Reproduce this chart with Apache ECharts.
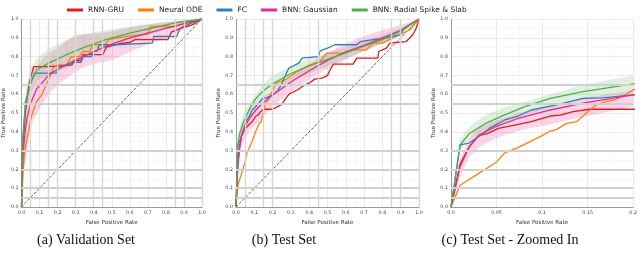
<!DOCTYPE html>
<html><head><meta charset="utf-8">
<script src="https://cdn.jsdelivr.net/npm/echarts/dist/echarts.min.js"></script>
<style>html,body{margin:0;padding:0;background:#fff}#c{width:640px;height:254px}</style>
</head><body><div id="c"></div><script>
// ---------- names / labels ----------
const seriesNames = ['RNN-GRU', 'Neural ODE', 'FC', 'BNN: Gaussian', 'BNN: Radial Spike & Slab'];
const captions = ['(a) Validation Set', '(b) Test Set', '(c) Test Set - Zoomed In'];
const xAxisTitle = 'False Positive Rate';
const yAxisTitle = 'True Positive Rate';
const zoomXTickLabels = ['0.0', '0.05', '0.1', '0.15', '0.2'];
const diagonal = [[0, 0], [1, 1]];

// ---------- validation set ROC ----------
const valRed = [[0,0],[0.005,0.3],[0.022,0.507],[0.04,0.65],[0.067,0.747],[0.15,0.747],[0.16,0.756],[0.28,0.756],[0.29,0.78],[0.33,0.78],[0.34,0.81],[0.45,0.81],[0.47,0.85],[0.55,0.87],[0.6,0.875],[0.63,0.89],[0.81,0.89],[0.83,0.93],[0.88,0.95],[0.95,0.97],[1,1]];
const valOrange = [[0,0],[0.009,0.196],[0.018,0.3],[0.036,0.39],[0.054,0.48],[0.082,0.56],[0.112,0.596],[0.14,0.658],[0.158,0.694],[0.176,0.738],[0.194,0.756],[0.25,0.756],[0.275,0.8],[0.32,0.8],[0.339,0.827],[0.38,0.827],[0.393,0.863],[0.46,0.863],[0.484,0.89],[0.53,0.9],[0.6,0.91],[0.7,0.92],[0.716,0.96],[0.851,0.96],[0.9,0.975],[1,1]];
const valBlue = [[0,0],[0.005,0.3],[0.022,0.56],[0.058,0.676],[0.076,0.712],[0.195,0.712],[0.2,0.745],[0.27,0.756],[0.28,0.77],[0.33,0.77],[0.34,0.8],[0.39,0.8],[0.393,0.827],[0.42,0.83],[0.43,0.863],[0.515,0.863],[0.52,0.872],[0.725,0.872],[0.733,0.907],[0.86,0.907],[0.878,0.952],[0.92,0.97],[1,1]];
const valPink = [[0,0],[0.005,0.2],[0.01,0.3],[0.02,0.4],[0.03,0.47],[0.05,0.55],[0.085,0.63],[0.16,0.71],[0.25,0.757],[0.34,0.8],[0.48,0.86],[0.6,0.9],[0.7,0.925],[0.8,0.95],[0.9,0.975],[1,1]];
const valGreen = [[0,0],[0.005,0.35],[0.022,0.543],[0.049,0.667],[0.085,0.73],[0.15,0.765],[0.25,0.81],[0.35,0.85],[0.466,0.89],[0.6,0.925],[0.716,0.95],[0.85,0.98],[1,1]];
// bands: [fpr, lower, upper]
const valPinkBand = [[0,0,0],[0.005,0.1,0.3],[0.01,0.18,0.42],[0.027,0.27,0.6],[0.045,0.38,0.69],[0.063,0.46,0.73],[0.1,0.52,0.765],[0.118,0.55,0.79],[0.17,0.62,0.83],[0.21,0.66,0.854],[0.26,0.69,0.89],[0.3,0.72,0.916],[0.35,0.747,0.92],[0.44,0.77,0.925],[0.5,0.78,0.935],[0.625,0.836,0.96],[0.77,0.89,0.98],[0.9,0.94,0.99],[1,1,1]];
const valGreenBand = [[0,0,0],[0.005,0.3,0.4],[0.022,0.5,0.6],[0.049,0.6,0.74],[0.085,0.67,0.79],[0.15,0.7,0.84],[0.25,0.74,0.89],[0.35,0.79,0.92],[0.466,0.84,0.94],[0.6,0.88,0.96],[0.716,0.92,0.975],[0.85,0.96,0.99],[1,1,1]];

// ---------- test set ROC ----------
const testRed = [[0,0],[0.01,0.23],[0.02,0.32],[0.03,0.38],[0.04,0.39],[0.052,0.418],[0.074,0.44],[0.088,0.454],[0.109,0.484],[0.12,0.489],[0.134,0.507],[0.152,0.52],[0.2,0.52],[0.22,0.53],[0.25,0.545],[0.27,0.575],[0.29,0.6],[0.34,0.625],[0.36,0.64],[0.4,0.66],[0.43,0.68],[0.47,0.685],[0.5,0.7],[0.515,0.73],[0.532,0.76],[0.64,0.76],[0.66,0.792],[0.775,0.792],[0.78,0.827],[0.822,0.845],[0.84,0.872],[0.93,0.88],[0.967,0.916],[0.985,0.952],[1,1]];
const testOrange = [[0,0],[0.01,0.116],[0.031,0.18],[0.049,0.235],[0.059,0.288],[0.074,0.317],[0.088,0.35],[0.099,0.377],[0.109,0.404],[0.116,0.413],[0.127,0.445],[0.138,0.454],[0.148,0.498],[0.159,0.543],[0.17,0.56],[0.18,0.57],[0.191,0.596],[0.2,0.623],[0.223,0.66],[0.269,0.676],[0.332,0.72],[0.405,0.756],[0.459,0.774],[0.495,0.819],[0.586,0.819],[0.64,0.836],[0.713,0.836],[0.75,0.872],[0.8,0.872],[0.876,0.907],[0.95,0.943],[1,1]];
const testBlue = [[0,0],[0.01,0.33],[0.02,0.34],[0.031,0.377],[0.042,0.418],[0.059,0.463],[0.074,0.484],[0.088,0.516],[0.116,0.543],[0.145,0.578],[0.166,0.58],[0.2,0.596],[0.23,0.62],[0.252,0.658],[0.27,0.7],[0.288,0.738],[0.343,0.765],[0.361,0.792],[0.45,0.8],[0.46,0.83],[0.5,0.845],[0.54,0.863],[0.66,0.863],[0.68,0.88],[0.75,0.89],[0.822,0.899],[0.894,0.916],[0.92,0.95],[1,1]];
const testPink = [[0,0],[0.01,0.214],[0.02,0.32],[0.031,0.383],[0.049,0.427],[0.074,0.472],[0.109,0.516],[0.145,0.552],[0.2,0.596],[0.3,0.665],[0.4,0.725],[0.5,0.78],[0.6,0.825],[0.7,0.86],[0.8,0.9],[0.9,0.94],[1,1]];
const testGreen = [[0,0],[0.01,0.33],[0.02,0.39],[0.038,0.445],[0.059,0.49],[0.081,0.534],[0.109,0.578],[0.145,0.614],[0.2,0.655],[0.3,0.71],[0.4,0.75],[0.5,0.785],[0.6,0.82],[0.7,0.855],[0.8,0.89],[0.9,0.935],[1,1]];
const testPinkBand = [[0,0,0],[0.01,0.16,0.26],[0.02,0.267,0.36],[0.031,0.32,0.42],[0.049,0.365,0.46],[0.074,0.405,0.5],[0.109,0.44,0.54],[0.145,0.48,0.58],[0.2,0.534,0.62],[0.3,0.615,0.69],[0.4,0.68,0.76],[0.5,0.735,0.82],[0.6,0.785,0.87],[0.7,0.83,0.91],[0.8,0.87,0.94],[0.9,0.92,0.97],[1,1,1]];
const testGreenBand = [[0,0,0],[0.01,0.3,0.365],[0.02,0.36,0.427],[0.038,0.41,0.49],[0.059,0.45,0.53],[0.081,0.49,0.56],[0.109,0.53,0.6],[0.145,0.57,0.65],[0.2,0.61,0.7],[0.3,0.67,0.75],[0.4,0.71,0.79],[0.5,0.75,0.82],[0.6,0.79,0.85],[0.7,0.83,0.885],[0.8,0.87,0.915],[0.9,0.91,0.955],[1,1,1]];

// emphasized (heavier) grid lines visible in the reference
const heavyY = [0.05, 0.1, 0.2, 0.3, 0.55, 0.65];
const heavyXVal = [0.05, 0.15, 0.2, 0.3, 0.4, 0.45, 0.85, 0.9, 1.0];
const heavyXTest = [0.05, 0.15, 0.2, 0.45, 0.85, 0.9, 1.0];

const colors = ['#e41a1c', '#ff7f0e', '#377eb8', '#e7298a', '#4daf4a'];
const bandColors = ['rgba(231,41,138,0.2)', 'rgba(77,175,74,0.18)'];

const chart = echarts.init(document.getElementById('c'), null, {renderer: 'canvas'});
const FONT = 'DejaVu Sans';

const grids = [
  {left: 18, top: 19, width: 184, height: 188},
  {left: 236, top: 19, width: 183, height: 188},
  {left: 451, top: 19, width: 187, height: 188}
];

function xAxisCfg(i, max, interval, fmt) {
  return {
    type: 'value', gridIndex: i, min: 0, max: max, interval: interval,
    name: xAxisTitle, nameLocation: 'middle', nameGap: 9,
    nameTextStyle: {fontFamily: FONT, fontSize: 5.6, color: '#333'},
    axisLine: {show: true, lineStyle: {color: '#999', width: 1}},
    axisTick: {show: false},
    axisLabel: {fontFamily: FONT, fontSize: 4.8, color: '#444', margin: 3, formatter: fmt},
    splitLine: {show: true, lineStyle: {color: '#e4e4e4', width: 0.8}},
    minorTick: {show: false, splitNumber: 2},
    minorSplitLine: {show: true, lineStyle: {color: '#f3f3f3', width: 0.6}}
  };
}
function yAxisCfg(i) {
  return {
    type: 'value', gridIndex: i, min: 0, max: 1, interval: 0.1,
    name: yAxisTitle, nameLocation: 'middle', nameGap: 13, nameRotate: 90,
    nameTextStyle: {fontFamily: FONT, fontSize: 5.6, color: '#333'},
    axisLine: {show: true, lineStyle: {color: '#999', width: 1}},
    axisTick: {show: false},
    axisLabel: {fontFamily: FONT, fontSize: 4.8, color: '#444', margin: 3, formatter: v => v.toFixed(1)},
    splitLine: {show: true, lineStyle: {color: '#e4e4e4', width: 0.8}},
    minorTick: {show: false, splitNumber: 2},
    minorSplitLine: {show: true, lineStyle: {color: '#f3f3f3', width: 0.6}}
  };
}

function band(i, pts, color, maxX) {
  const p = pts.filter(d => d[0] <= maxX + 1e-9);
  return {
    type: 'custom', name: 'band' + i + color, xAxisIndex: i, yAxisIndex: i, silent: true, z: 1,
    data: [[0, 0]],
    renderItem: function (params, api) {
      const up = p.map(d => api.coord([d[0], d[2]]));
      const lo = p.slice().reverse().map(d => api.coord([d[0], d[1]]));
      return {type: 'polygon', shape: {points: up.concat(lo)}, style: {fill: color}};
    }
  };
}
function line(i, name, data, color, w) {
  return {
    type: 'line', name: name, xAxisIndex: i, yAxisIndex: i, data: data,
    showSymbol: false, symbol: 'none', z: 3, silent: true, clip: true,
    lineStyle: {color: color, width: w || 1.3}, itemStyle: {color: color}
  };
}
function heavy(i, xs, ys) {
  return {
    type: 'line', name: 'heavy' + i, xAxisIndex: i, yAxisIndex: i, data: [],
    silent: true, z: 0, symbol: 'none',
    markLine: {
      silent: true, symbol: 'none', animation: false, label: {show: false},
      lineStyle: {color: '#d0d0d0', width: 1.8, type: 'solid'},
      data: xs.map(v => ({xAxis: v, lineStyle: {width: 1.4, color: '#d6d6d6'}})).concat(ys.map(v => ({yAxis: v})))
    }
  };
}
function diag(i) {
  return {
    type: 'line', name: 'chance' + i, xAxisIndex: i, yAxisIndex: i, data: diagonal,
    symbol: 'none', silent: true, z: 2,
    lineStyle: {color: '#222', width: 0.7, type: [3, 1.5]}
  };
}

const sets = [
  {d: [valRed, valOrange, valBlue, valPink, valGreen], b: [valPinkBand, valGreenBand], max: 1},
  {d: [testRed, testOrange, testBlue, testPink, testGreen], b: [testPinkBand, testGreenBand], max: 1},
  {d: [testRed, testOrange, testBlue, testPink, testGreen], b: [testPinkBand, testGreenBand], max: 0.2}
];

const series = [];
sets.forEach((s, i) => {
  series.push(heavy(i, i === 0 ? heavyXVal : (i === 1 ? heavyXTest : []), heavyY));
  series.push(band(i, s.b[0], bandColors[0], s.max));
  series.push(band(i, s.b[1], bandColors[1], s.max));
  if (i < 2) series.push(diag(i));
  s.d.forEach((d, k) => series.push(line(i, seriesNames[k], d, colors[k])));
});

const capX = [86, 284, 510];
const option = {
  animation: false,
  backgroundColor: '#fff',
  color: colors,
  legend: {
    data: seriesNames, left: 62, top: 1, itemWidth: 16, itemHeight: 3, itemGap: 14,
    icon: 'rect', selectedMode: false,
    textStyle: {fontFamily: FONT, fontSize: 7.5, color: '#222', padding: [0, 0, 0, 0]}
  },
  grid: grids,
  xAxis: [
    xAxisCfg(0, 1, 0.1, v => v.toFixed(1)),
    xAxisCfg(1, 1, 0.1, v => v.toFixed(1)),
    xAxisCfg(2, 0.2, 0.05, v => zoomXTickLabels[Math.round(v / 0.05)])
  ],
  yAxis: [yAxisCfg(0), yAxisCfg(1), yAxisCfg(2)],
  series: series,
  graphic: captions.map((t, i) => ({
    type: 'text', x: capX[i], y: 240, silent: true,
    style: {text: t, textAlign: 'center', textVerticalAlign: 'middle', fontFamily: 'Liberation Serif', fontSize: 14, fill: '#111'}
  }))
};
chart.setOption(option);
</script></body></html>
